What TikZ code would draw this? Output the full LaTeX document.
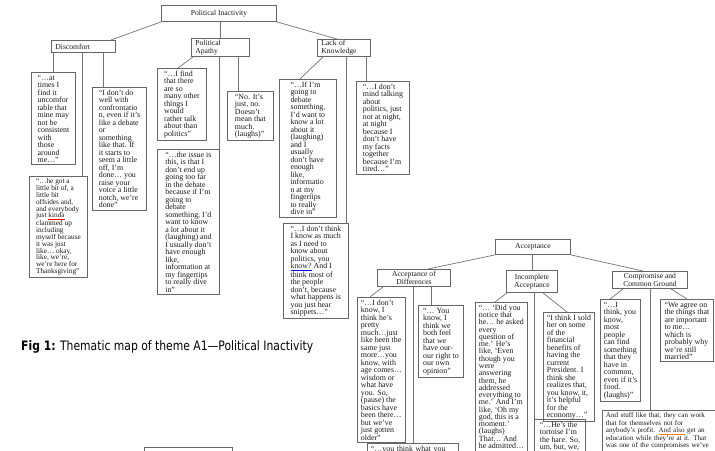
\documentclass[tikz,border=0pt]{standalone}
\usepackage{fontspec}
\setmainfont{Liberation Serif}
\newfontfamily\capfont{DejaVu Sans}
\usepackage{xcolor}
\usepackage{graphicx}
\usepackage{tikz}
\newcommand{\squig}[2]{\textcolor{#1}{\underline{\textcolor{black!85}{#2}}}}

\begin{document}
\begin{tikzpicture}[x=1pt, y=-1pt,
    quote/.style={draw=black!60, line width=0.9pt, anchor=north west, align=left, inner xsep=3.5pt, inner ysep=2.3pt, text=black!90, font=\fontsize{7.9}{7.5}\selectfont},
    theme/.style={draw=black!60, line width=0.9pt, anchor=north west, inner sep=0pt, text=black!90, font=\fontsize{7.6}{7.8}\selectfont},
    link/.style={draw=black!55, line width=0.7pt}]
    \useasboundingbox (0,0) rectangle (715,450);
    \clip (0,0) rectangle (715,450);

    % theme A1
    \node [theme, minimum width=115pt, minimum height=16pt] (inact) at (161,5) {Political Inactivity};
    \node [theme, minimum width=64pt, minimum height=12pt, text width=56pt, align=left] (disc) at (51,40) {Discomfort};
    \node [theme, minimum width=58pt, minimum height=18pt, text width=50pt, align=left] (apathy) at (191,38) {Political\\ Apathy};
    \node [theme, minimum width=53pt, minimum height=17pt, text width=45pt, align=left] (know) at (317,39) {Lack of\\ Knowledge};

    \node [quote, minimum width=44pt] (atimes) at (31,72) {“…at\\ times I\\ find it\\ uncomfor\\ table that\\ mine may\\ not be\\ consistent\\ with\\ those\\ around\\ me…”};
    \node [quote, minimum width=58pt, font=\fontsize{7.3}{6.8}\selectfont] (gotbox) at (29,176) {“…he got a\\ little bit of, a\\ little bit\\ offsides and,\\ and everybody\\ just \squig{red}{kinda}\\ clammed up\\ including\\ myself because\\ it was just\\ like… okay,\\ like, we're,\\ we're here for\\ Thanksgiving”};
    \node [quote, minimum width=54pt] (dowell) at (92,87) {“I don't do\\ well with\\ confrontatio\\ n, even if it's\\ like a debate\\ or\\ something\\ like that. If\\ it starts to\\ seem a little\\ off, I'm\\ done… you\\ raise your\\ voice a little\\ notch, we're\\ done”};
    \node [quote, minimum width=49pt] (ifind) at (157,68) {“…I find\\ that there\\ are so\\ many other\\ things I\\ would\\ rather talk\\ about than\\ politics”};
    \node [quote, minimum width=62pt] (issue) at (157,149) {“…the issue is\\ this, is that I\\ don't end up\\ going too far\\ in the debate\\ because if I'm\\ going to\\ debate\\ something, I'd\\ want to know\\ a lot about it\\ (laughing) and\\ I usually don't\\ have enough\\ like,\\ information at\\ my fingertips\\ to really dive\\ in”};
    \node [quote, minimum width=46pt] (nojust) at (227,91) {“No. It's\\ just, no.\\ Doesn't\\ mean that\\ much.\\ (laughs)”};
    \node [quote, minimum width=57pt] (ifgoing) at (279,79) {“…If I'm\\ going to\\ debate\\ something,\\ I'd want to\\ know a lot\\ about it\\ (laughing)\\ and I\\ usually\\ don't have\\ enough\\ like,\\ informatio\\ n at my\\ fingertips\\ to really\\ dive in”};
    \node [quote, minimum width=65pt] (dontthink) at (283,223) {“…I don't think\\ I know as much\\ as I need to\\ know about\\ politics, you\\ \squig{blue}{know?} And I\\ think most of\\ the people\\ don't, because\\ what happens is\\ you just hear\\ snippets…”};
    \node [quote, minimum width=53pt] (mind) at (356,81) {“…I don't\\ mind talking\\ about\\ politics, just\\ not at night,\\ at night\\ because I\\ don't have\\ my facts\\ together\\ because I'm\\ tired…”};

    \draw [link] (inact.south west) -- ([xshift=-5pt]disc.north east);
    \draw [link] (apathy.north) -- (apathy.north |- inact.south);
    \draw [link] (inact.south east) -- ([xshift=20pt]know.north west);
    \draw [link] (atimes.north) -- (atimes.north |- disc.south);
    \draw [link] ([xshift=-6pt]gotbox.north east) -- ([xshift=-6pt]gotbox.north east |- disc.south);
    \draw [link] ([xshift=11pt]dowell.north west) -- ([xshift=11pt]dowell.north west |- disc.south);
    \draw [link] ([xshift=2pt]apathy.south west) -- ([xshift=21pt]ifind.north west);
    \draw [link] ([xshift=-1pt]issue.north east) -- ([xshift=-1pt]issue.north east |- apathy.south);
    \draw [link] ([xshift=11pt]nojust.north west) -- ([xshift=11pt]nojust.north west |- apathy.south);
    \draw [link] ([xshift=6pt]know.south west) -- ([xshift=21pt]ifgoing.north west);
    \draw [link] ([xshift=-3pt]dontthink.north east) -- ([xshift=-3pt]dontthink.north east |- know.south);
    \draw [link] ([xshift=10pt]mind.north west) -- ([xshift=10pt]mind.north west |- know.south);

    \node [anchor=west, inner sep=0pt] (caption) at (21,347) {\scalebox{0.83}[1]{\capfont\fontsize{13}{14}\selectfont\textbf{Fig 1:} Thematic map of theme A1—Political Inactivity}};
    \node [quote, minimum width=88pt, minimum height=20pt] (lowbox) at (144,447) {};

    % theme A2
    \node [theme, minimum width=75pt, minimum height=15pt] (accept) at (495,239) {Acceptance};
    \node [theme, minimum width=73pt, minimum height=17pt, align=center] (accdiff) at (377,269) {Acceptance of\\ Differences};
    \node [theme, minimum width=51pt, minimum height=22pt, align=center] (incompl) at (506,270) {Incomplete\\ Acceptance};
    \node [theme, minimum width=75pt, minimum height=17pt, align=center] (comprom) at (612,271) {Compromise and\\ Common Ground};

    \node [quote, minimum width=48pt] (dontknow) at (357,297) {“…I don't\\ know, I\\ think he's\\ pretty\\ much…just\\ like been the\\ same just\\ more…you\\ know, with\\ age comes…\\ wisdom or\\ what have\\ you. So,\\ (pause) the\\ basics have\\ been there…\\ but we've\\ just gotten\\ older”};
    \node [quote, minimum width=45pt] (youknow) at (418,305) {“… You\\ know, I\\ think we\\ both feel\\ that we\\ have our-\\ our right to\\ our own\\ opinion”};
    \node [quote, minimum width=91pt, text width=84pt] (thinkwhat) at (367,443) {“…you think what you\\ \rule{0pt}{20pt}};
    \node [quote, minimum width=52pt, font=\fontsize{7.9}{7.28}\selectfont] (notice) at (475,302) {“… ‘Did you\\ notice that\\ he… he asked\\ every\\ question of\\ me.’ He's\\ like, ‘Even\\ though you\\ were\\ answering\\ them, he\\ addressed\\ everything to\\ me.’ And I'm\\ like, ‘Oh my\\ god, this is a\\ moment.’\\ (laughs)\\ That… And\\ he admitted…\\ \rule{0pt}{10pt}};
    \node [quote, minimum width=51pt] (sold) at (543,312) {“I think I sold\\ her on some\\ of the\\ financial\\ benefits of\\ having the\\ current\\ President. I\\ think she\\ realizes that,\\ you know, it,\\ it's helpful\\ for the\\ economy…”};
    \node [quote, minimum width=51pt] (tortoise) at (534,419) {“…He's the\\ tortoise I'm\\ the hare. So,\\ um, but, we,\\ \rule{0pt}{20pt}};
    \node [quote, minimum width=39pt] (most) at (600,299) {“…I\\ think, you\\ know,\\ most\\ people\\ can find\\ something\\ that they\\ have in\\ common,\\ even if it's\\ food.\\ (laughs)”};
    \node [quote, minimum width=53pt] (agree) at (660,299) {“We agree on\\ the things that\\ are important\\ to me…\\ which is\\ probably why\\ we're still\\ married”};
    \node [quote, minimum width=130pt, text width=123pt, font=\fontsize{7.1}{7.5}\selectfont] (stuff) at (602,410) {And stuff like that, they can work\\ that for themselves not for\\ anybody's profit. \squig{orange}{And also} get an\\ education while they're at it. That\\ was one of the compromises we've\\ \rule{0pt}{20pt}};

    \draw [link] (accept.south west) -- ([xshift=-23pt]accdiff.north east);
    \draw [link] (incompl.north) -- (incompl.north |- accept.south);
    \draw [link] (accept.south east) -- ([xshift=31pt]comprom.north west);
    \draw [link] ([xshift=6pt]accdiff.south west) -- ([xshift=13pt]dontknow.north west);
    \draw [link] ([xshift=46pt]thinkwhat.north west) -- ([xshift=46pt]thinkwhat.north west |- accdiff.south);
    \draw [link] ([xshift=13pt]youknow.north west) -- ([xshift=13pt]youknow.north west |- accdiff.south);
    \draw [link] ([xshift=1pt]incompl.south west) -- ([xshift=20pt]notice.north west);
    \draw [link] (tortoise.north west) -- (tortoise.north west |- incompl.south);
    \draw [link] ([xshift=37pt]incompl.south west) -- ([xshift=24pt]sold.north west);
    \draw [link] ([xshift=11pt]comprom.south west) -- ([xshift=10pt]most.north west);
    \draw [link] ([xshift=48pt]stuff.north west) -- ([xshift=48pt]stuff.north west |- comprom.south);
    \draw [link] ([xshift=-17pt]comprom.south east) -- ([xshift=27pt]agree.north west);
\end{tikzpicture}
\end{document}
